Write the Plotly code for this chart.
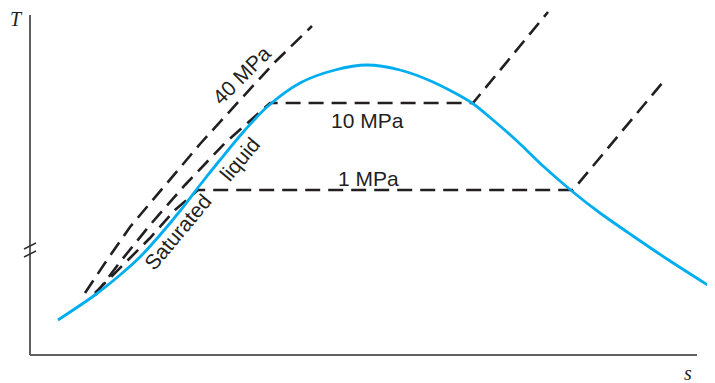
import plotly.graph_objects as go

# saturation dome (s, T) in drawing units
dome_s = [58, 95, 120, 140, 160, 180, 200, 220, 245, 267, 300, 335, 367, 400, 433, 472, 493, 517, 543, 573, 600, 633, 667, 714]
dome_T = [63, 88, 108, 126, 148, 172, 198, 223, 253, 276, 300, 313, 318, 313, 301, 280, 263, 242, 217, 191, 170, 147, 124, 94]

# isobars
p40_s = [85, 105, 130, 160, 200, 240, 275, 312]
p40_T = [90, 120, 156, 192, 239, 283, 321, 357]

p10_s = [95, 120, 150, 185, 225, 270, 473, 548]
p10_T = [88, 121, 158, 198, 240, 280, 280, 371]

p1_s = [95, 120, 150, 175, 198, 573, 663]
p1_T = [90, 115, 145, 173, 193, 193, 301]

DARK = "#231f20"
CYAN = "#00aeef"
DASH = "15px,8px"

# page body has an 8px margin, so the figure is 8px smaller and the ranges start there
W, H, OFF = 715, 383, 8

fig = go.Figure()
for xs, ys in [(p40_s, p40_T), (p10_s, p10_T), (p1_s, p1_T)]:
    fig.add_trace(go.Scatter(x=xs, y=ys, mode="lines",
                             line=dict(color=DARK, width=2.6, dash=DASH),
                             showlegend=False, hoverinfo="skip"))
fig.add_trace(go.Scatter(x=dome_s, y=dome_T, mode="lines", line_shape="spline",
                         line=dict(color=CYAN, width=2.8, smoothing=0.8),
                         showlegend=False, hoverinfo="skip"))

# axes drawn by hand (with a break on T)
axis = dict(type="line", xref="x", yref="y", line=dict(color="#606060", width=2))
fig.add_shape(x0=30, y0=28, x1=30, y1=368, **axis)
fig.add_shape(x0=30, y0=28, x1=697, y1=28, **axis)
brk = dict(type="line", xref="x", yref="y", line=dict(color="#303030", width=1.5))
fig.add_shape(x0=24, y0=134, x1=36, y1=140, **brk)
fig.add_shape(x0=24, y0=126, x1=36, y1=132, **brk)

sans = dict(family="Liberation Sans, Arial", size=21, color=DARK)
serif = dict(family="Liberation Serif, Times New Roman", size=20, color=DARK)
notes = [
    ("<i>T</i>", 16, 364, 0, serif),
    ("<i>s</i>", 688, 10, 0, serif),
    ("40 MPa", 241, 308, -45, sans),
    ("10 MPa", 367, 263, 0, sans),
    ("1 MPa", 368, 205, 0, sans),
    ("Saturated", 177, 151, -50, sans),
    ("liquid", 239, 224, -50, sans),
]
for txt, x, y, ang, f in notes:
    fig.add_annotation(x=x, y=y, text=txt, textangle=ang, showarrow=False,
                       font=f, xref="x", yref="y")

fig.update_layout(
    width=W - OFF, height=H - OFF,
    margin=dict(l=0, r=0, t=0, b=0),
    paper_bgcolor="white", plot_bgcolor="white",
    xaxis=dict(range=[OFF, W], visible=False, fixedrange=True),
    yaxis=dict(range=[0, H - OFF], visible=False, fixedrange=True),
)
fig.write_html("out.html")
